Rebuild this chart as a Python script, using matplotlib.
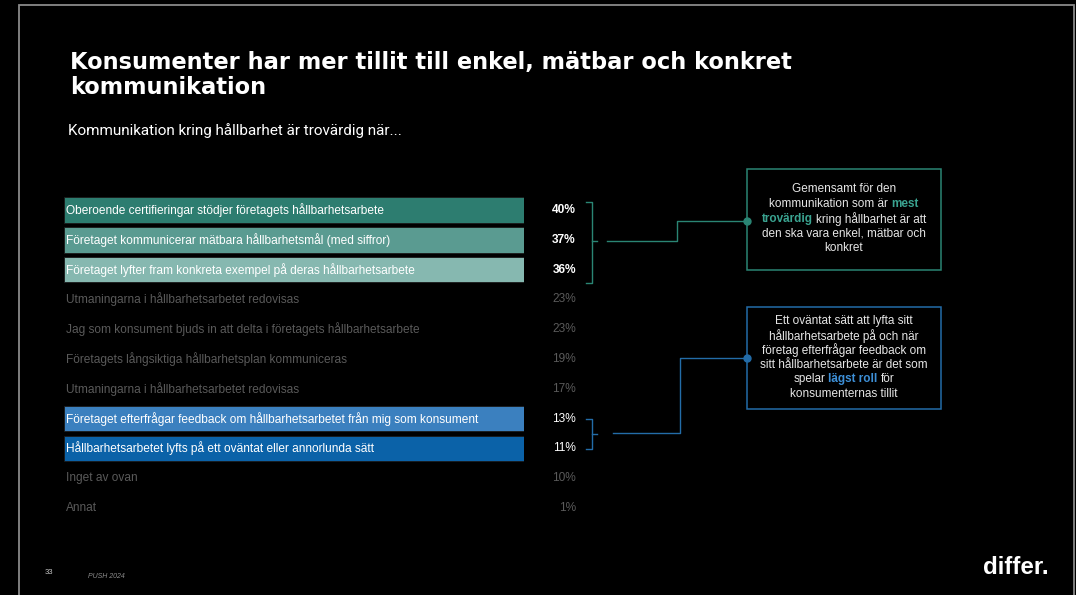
import matplotlib
matplotlib.use("Agg")
import matplotlib.pyplot as plt
from matplotlib.patches import Rectangle
from matplotlib import font_manager

# ---- data -------------------------------------------------------------
statements = [
    "Oberoende certifieringar stödjer företagets hållbarhetsarbete",
    "Företaget kommunicerar mätbara hållbarhetsmål (med siffror)",
    "Företaget lyfter fram konkreta exempel på deras hållbarhetsarbete",
    "Utmaningarna i hållbarhetsarbetet redovisas",
    "Jag som konsument bjuds in att delta i företagets hållbarhetsarbete",
    "Företagets långsiktiga hållbarhetsplan kommuniceras",
    "Utmaningarna i hållbarhetsarbetet redovisas",
    "Företaget efterfrågar feedback om hållbarhetsarbetet från mig som konsument",
    "Hållbarhetsarbetet lyfts på ett oväntat eller annorlunda sätt",
    "Inget av ovan",
    "Annat",
]
shares = [40, 37, 36, 23, 23, 19, 17, 13, 11, 10, 1]
highlight_colors = ["#2d7d70", "#5a9b91", "#86b8b0", None, None, None, None,
                    "#3b80bf", "#0b62a8", None, None]
bold_values = [True, True, True, False, False, False, False, False, False, False, False]

title_lines = ["Konsumenter har mer tillit till enkel, mätbar och konkret",
               "kommunikation"]
subtitle = "Kommunikation kring hållbarhet är trovärdig när..."

TEAL = "#2a8574"
TEAL_TXT = "#3aa390"
BLUE = "#236ca8"
BLUE_TXT = "#3d8fd6"
GREY_TXT = "#5a5a5a"
BOX_TXT = "#e6e6e6"

box1_lines = [[("Gemensamt för den", None)],
              [("kommunikation som är", None), ("mest", TEAL_TXT)],
              [("trovärdig", TEAL_TXT), ("kring hållbarhet är att", None)],
              [("den ska vara enkel, mätbar och", None)],
              [("konkret", None)]]
box2_lines = [[("Ett oväntat sätt att lyfta sitt", None)],
              [("hållbarhetsarbete på och när", None)],
              [("företag efterfrågar feedback om", None)],
              [("sitt hållbarhetsarbete är det som", None)],
              [("spelar", None), ("lägst roll", BLUE_TXT), ("för", None)],
              [("konsumenternas tillit", None)]]

# ---- fonts ------------------------------------------------------------
names = {f.name for f in font_manager.fontManager.ttflist}
SANS = "Liberation Sans" if "Liberation Sans" in names else "DejaVu Sans"
NARROW = "Roboto" if "Roboto" in names else SANS
WIDE = "DejaVu Sans"

W, H = 1076, 595
fig = plt.figure(figsize=(W / 100, H / 100), dpi=100, facecolor="black")
renderer = fig.canvas.get_renderer()

# overlay axes in pixel units (y down)
ov = fig.add_axes([0, 0, 1, 1])
ov.set_xlim(0, W)
ov.set_ylim(H, 0)
ov.axis("off")
ov.set_facecolor("black")


def width_px(t):
    return t.get_window_extent(renderer=renderer).width


def fit(t, target):
    w = width_px(t)
    t.set_fontsize(t.get_fontsize() * target / w)
    return t


# slide frame
ov.plot([18.5, 18.5, 1074, 1074], [H + 5, 4.5, 4.5, H + 5], color="#8a8a8a", lw=1.3,
        solid_joinstyle="miter")

# title & subtitle
t1 = ov.text(70, 62, title_lines[0], color="white", fontsize=16, fontweight="bold",
             family=WIDE, va="center", ha="left")
fit(t1, 725)
ov.text(70, 88, title_lines[1], color="white", fontsize=t1.get_fontsize(),
        fontweight="bold", family=WIDE, va="center", ha="left")
st = ov.text(68, 131, subtitle, color="white", fontsize=11, family=NARROW,
             va="center", ha="left")
fit(st, 332)

# ---- chart ------------------------------------------------------------
top, row_h = 195.1, 29.8
n = len(statements)
ax = fig.add_axes([64 / W, 1 - (top + n * row_h) / H, 460 / W, n * row_h / H])
ax.set_xlim(0, 1)
ax.set_ylim(n - 0.5, -0.5)
ax.axis("off")
ax.patch.set_alpha(0)

rows = list(range(n))
for i, c in zip(rows, highlight_colors):
    if c is not None:
        ax.barh(i, 1, height=0.86, left=0, color=c, edgecolor="#1a1a1a", linewidth=0.6)

ytr = ax.get_yaxis_transform()
ref = ax.text(0, 0, statements[7], fontsize=9, family=SANS, transform=ytr)
fit(ref, 416)
lab_fs = ref.get_fontsize()
ref.remove()
for i, s in enumerate(statements):
    col = "white" if highlight_colors[i] else GREY_TXT
    ax.text(0.004, i, s, color=col, fontsize=lab_fs, family=SANS, va="center",
            ha="left", transform=ytr)
    vcol = "white" if highlight_colors[i] else GREY_TXT
    ax.text((576 - 64) / 460, i, f"{shares[i]}%", color=vcol, fontsize=lab_fs,
            fontweight="bold" if bold_values[i] else "normal", family=SANS,
            va="center", ha="right", transform=ytr, clip_on=False)

# ---- brackets and connectors -----------------------------------------
def bracket(y0, y1, ymid, color):
    ov.plot([586, 592, 592, 586], [y0, y0, y1, y1], color=color, lw=1.0)
    ov.plot([592, 597], [ymid, ymid], color=color, lw=1.0)


bracket(202, 283, 241, TEAL)
ov.plot([607, 677, 677, 747], [241, 241, 221, 221], color=TEAL, lw=1.0)
ov.plot([747], [221], "o", color=TEAL, ms=5)
bracket(419, 449, 434, BLUE)
ov.plot([613, 680, 680, 747], [433, 433, 358, 358], color=BLUE, lw=1.0)
ov.plot([747], [358], "o", color=BLUE, ms=5)

ov.add_patch(Rectangle((747, 169), 194, 101, fill=False, edgecolor=TEAL, lw=1.1))
ov.add_patch(Rectangle((747, 307), 194, 102, fill=False, edgecolor=BLUE, lw=1.1))

# box text with coloured emphasis
probe = ov.text(0, 0, "företag efterfrågar feedback om", fontsize=9, family=SANS)
fit(probe, 166)
box_fs = probe.get_fontsize()
probe.remove()
a = ov.text(0, 0, "a a", fontsize=box_fs, family=SANS)
b = ov.text(0, 0, "aa", fontsize=box_fs, family=SANS)
space_w = width_px(a) - width_px(b)
a.remove()
b.remove()


def centered_line(cx, y, parts):
    items = []
    for txt, colr in parts:
        t = ov.text(0, y, txt, fontsize=box_fs, family=SANS, va="center", ha="left",
                    color=colr or BOX_TXT, fontweight="bold" if colr else "normal")
        items.append(t)
    widths = [width_px(t) for t in items]
    total = sum(widths) + space_w * (len(items) - 1)
    x = cx - total / 2
    for t, w in zip(items, widths):
        t.set_x(x)
        x += w + space_w


for k, parts in enumerate(box1_lines):
    centered_line(844, 189.5 + k * 14.6, parts)
for k, parts in enumerate(box2_lines):
    centered_line(844, 321 + k * 14.6, parts)

# footer
ov.text(45, 573, "33", color="#c4c4c4", fontsize=5.5, family=SANS, va="center")
ov.text(88, 576, "PUSH 2024", color="#8c8c8c", fontsize=5, family=SANS,
        style="italic", va="center")
logo = ov.text(983, 568, "differ.", color="white", fontsize=18, fontweight="bold",
               family=SANS, va="center", ha="left")
fit(logo, 66)

fig.savefig("out.png", dpi=100, facecolor="black")
